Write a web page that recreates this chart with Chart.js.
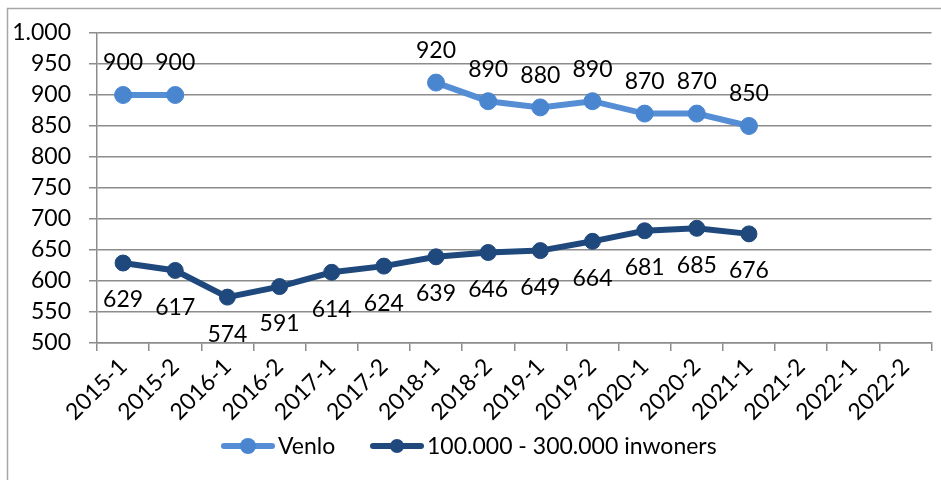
<!DOCTYPE html>
<html>
<head>
<meta charset="utf-8">
<script src="https://cdn.jsdelivr.net/npm/chart.js@4/dist/chart.umd.min.js"></script>
<style>
  html, body { margin: 0; padding: 0; background: #fff; }
  #wrap { width: 941px; height: 480px; position: relative; }
</style>
</head>
<body>
<div id="wrap"><canvas id="chart" width="941" height="480"></canvas></div>
<script>
// categorieën (halfjaren)
const periods = ['2015-1', '2015-2', '2016-1', '2016-2', '2017-1', '2017-2', '2018-1', '2018-2',
                 '2019-1', '2019-2', '2020-1', '2020-2', '2021-1', '2021-2', '2022-1', '2022-2'];

// reeksen
const venlo = [900, 900, null, null, null, null, 920, 890, 880, 890, 870, 870, 850, null, null, null];
const inwoners = [629, 617, 574, 591, 614, 624, 639, 646, 649, 664, 681, 685, 676, null, null, null];

const seriesNames = ['Venlo', '100.000 - 300.000 inwoners'];

// y-as
const yMin = 500;
const yMax = 1000;
const yStep = 50;

const FONT = 'Lato, "Open Sans", sans-serif';
const FS = 23;
const GRID = '#8c8c8c';

// Nederlandse notatie: 1000 -> 1.000
function nl(v) {
    return String(v).replace(/\B(?=(\d{3})+(?!\d))/g, '.');
}

// waarden boven/onder de punten
const valueLabels = {
    id: 'valueLabels',
    afterDatasetsDraw(chart) {
        const ctx = chart.ctx;
        ctx.save();
        ctx.font = FS + 'px ' + FONT;
        ctx.fillStyle = '#000';
        ctx.textAlign = 'center';
        ctx.textBaseline = 'middle';
        chart.data.datasets.forEach((ds, i) => {
            const meta = chart.getDatasetMeta(i);
            meta.data.forEach((pt, j) => {
                const v = ds.data[j];
                if (v === null) return;
                const dy = i === 0 ? -32 : 37;
                ctx.fillText(nl(v), pt.x, pt.y + dy);
            });
        });
        ctx.restore();
    }
};

// legenda onderaan + kader
const legendAndFrame = {
    id: 'legendAndFrame',
    afterDraw(chart) {
        const ctx = chart.ctx;
        ctx.save();
        // kader
        ctx.strokeStyle = '#a6a6a6';
        ctx.lineWidth = 1.5;
        ctx.beginPath();
        ctx.moveTo(7.5, 480);
        ctx.lineTo(7.5, 8.5);
        ctx.lineTo(941, 8.5);
        ctx.stroke();

        // legenda
        const y = 446;
        const starts = [221, 370];
        ctx.font = FS + 'px ' + FONT;
        ctx.textBaseline = 'middle';
        ctx.textAlign = 'left';
        chart.data.datasets.forEach((ds, i) => {
            const x0 = starts[i];
            ctx.strokeStyle = ds.borderColor;
            ctx.lineWidth = 6;
            ctx.lineCap = 'round';
            ctx.beginPath();
            ctx.moveTo(x0 + 3, y);
            ctx.lineTo(x0 + 51, y);
            ctx.stroke();
            ctx.fillStyle = ds.pointBackgroundColor;
            ctx.beginPath();
            ctx.arc(x0 + 27, y, i === 0 ? 8 : 7, 0, Math.PI * 2);
            ctx.fill();
            ctx.fillStyle = '#000';
            ctx.fillText(ds.label, x0 + 57, y + 1);
        });
        ctx.restore();
    }
};

new Chart(document.getElementById('chart').getContext('2d'), {
    type: 'line',
    data: {
        labels: periods,
        datasets: [{
            label: seriesNames[0],
            data: venlo,
            borderColor: '#558ed5',
            backgroundColor: '#4a86d0',
            pointBackgroundColor: '#4a86d0',
            pointBorderColor: '#4a86d0',
            borderWidth: 6,
            pointRadius: 8.5,
            pointBorderWidth: 1,
            spanGaps: false,
            tension: 0
        }, {
            label: seriesNames[1],
            data: inwoners,
            borderColor: '#1f497d',
            backgroundColor: '#1f497d',
            pointBackgroundColor: '#1f497d',
            pointBorderColor: '#1f497d',
            borderWidth: 6,
            pointRadius: 8,
            pointBorderWidth: 1,
            spanGaps: false,
            tension: 0
        }]
    },
    options: {
        responsive: false,
        animation: false,
        layout: {
            padding: { top: 33, right: 9, bottom: 0, left: 0 }
        },
        plugins: {
            legend: { display: false },
            tooltip: { enabled: false }
        },
        scales: {
            x: {
                offset: true,
                grid: {
                    offset: true,
                    drawOnChartArea: false,
                    color: GRID,
                    lineWidth: 1.5,
                    tickLength: 8
                },
                border: { color: GRID, width: 1.5 },
                ticks: {
                    color: '#000',
                    font: { family: FONT, size: FS },
                    maxRotation: 45,
                    minRotation: 45,
                    autoSkip: false,
                    padding: 2
                },
                afterFit: (scale) => { scale.height = 137; }
            },
            y: {
                min: yMin,
                max: yMax,
                grid: {
                    color: GRID,
                    lineWidth: 1.5,
                    tickLength: 8
                },
                border: { color: GRID, width: 1.5 },
                ticks: {
                    stepSize: yStep,
                    color: '#000',
                    font: { family: FONT, size: FS },
                    padding: 18,
                    callback: (v) => nl(v)
                },
                afterFit: (scale) => { scale.width = 97; }
            }
        }
    },
    plugins: [valueLabels, legendAndFrame]
});
</script>
</body>
</html>
